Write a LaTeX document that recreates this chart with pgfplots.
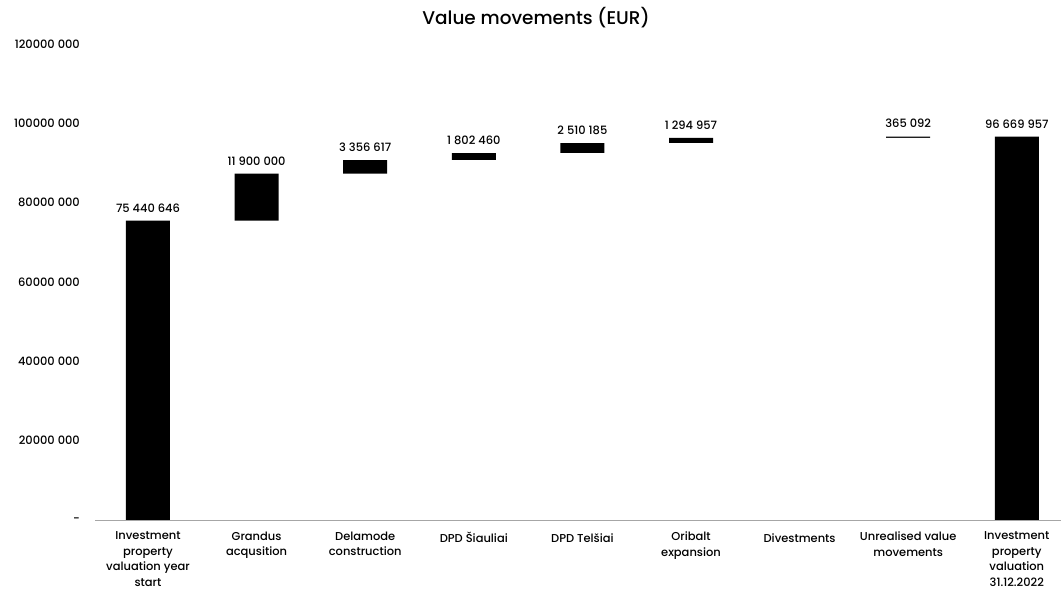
\documentclass[border=0pt]{standalone}
\usepackage{fontspec}
\setmainfont{Poppins}[UprightFont={* Medium}]
\usepackage{pgfplots}
\usepackage{pgfplotstable}
\pgfplotsset{compat=1.18}

% waterfall: black bar up to the running total, white bar hides the part below
\pgfplotstableread[col sep=comma]{
x,base,top,label
0,0,75440646,75 440 646
1,75440646,87340646,11 900 000
2,87340646,90697263,3 356 617
3,90697263,92499723,1 802 460
4,92499723,95009908,2 510 185
5,95009908,96304865,1 294 957
6,0,0,{}
7,96304865,96669957,365 092
8,0,96669957,96 669 957
}\movements

\begin{document}
\begin{tikzpicture}
\useasboundingbox (0,0) rectangle (1061bp,597bp);
\node[font=\fontsize{18.5}{22}\selectfont] at (536bp,579bp) {Value movements (EUR)};
\begin{axis}[
    at={(95bp,77bp)}, anchor=south west,
    scale only axis,
    width=966bp, height=476bp,
    ybar, bar shift=0pt,
    bar width=44bp,
    xmin=-0.488, xmax=8.407,
    ymin=0, ymax=120000000,
    axis line style={draw=none},
    tick style={draw=none},
    xtick={0,...,8},
    xticklabels={
      Investment\\property\\valuation year\\start,
      Grandus\\acqusition,
      Delamode\\construction,
      DPD Šiauliai,
      DPD Telšiai,
      Oribalt\\expansion,
      Divestments,
      Unrealised value\\movements,
      Investment\\property\\valuation\\31.12.2022},
    xticklabel style={align=center, anchor=north, yshift=-4bp,
      font=\fontsize{11.5}{15.5}\selectfont,
      execute at begin node={\rule{0pt}{11bp}}},
    ytick={0,20000000,40000000,60000000,80000000,100000000,120000000},
    yticklabels={-\hspace{5bp},20000 000,40000 000,60000 000,80000 000,100000 000,120000 000},
    yticklabel style={anchor=east, inner sep=0pt, xshift=-15bp,
      font=\fontsize{11.5}{13}\selectfont},
    scaled y ticks=false,
    nodes near coords style={font=\fontsize{11.5}{13}\selectfont, anchor=south, yshift=5bp},
    after end axis/.code={
      \draw[gray!70, line width=1bp] (axis description cs:0,0) -- (axis description cs:1,0);
    },
  ]
  \addplot[draw=none, fill=black,
    nodes near coords, point meta=explicit symbolic]
    table[x=x, y=top, meta=label] {\movements};
  \addplot[draw=none, fill=white, bar width=48bp]
    table[x=x, y=base] {\movements};
\end{axis}
\end{tikzpicture}
\end{document}
